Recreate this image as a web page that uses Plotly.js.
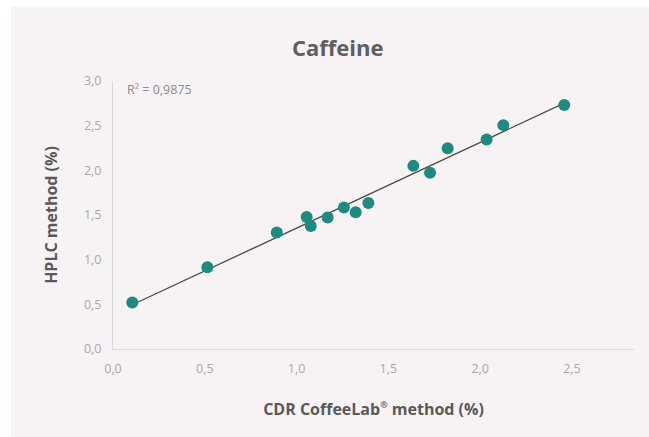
<!DOCTYPE html>
<html>
<head>
<meta charset="utf-8">
<script src="https://cdn.plot.ly/plotly-3.0.1.min.js"></script>
<style>
  html, body { margin: 0; padding: 0; background: #ffffff; }
  #chart { position: absolute; left: 11px; top: 7px; width: 638px; height: 430px; }
</style>
</head>
<body>
<div id="chart"></div>
<script>
// Data
const cdrValues  = [0.105, 0.514, 0.892, 1.055, 1.077, 1.169, 1.258, 1.322, 1.391, 1.636, 1.727, 1.823, 2.035, 2.126, 2.458];
const hplcValues = [0.52, 0.915, 1.303, 1.478, 1.377, 1.471, 1.584, 1.531, 1.635, 2.050, 1.972, 2.247, 2.346, 2.506, 2.731];
const xTickValues = [0, 0.5, 1.0, 1.5, 2.0, 2.5];
const yTickValues = [0, 0.5, 1.0, 1.5, 2.0, 2.5, 3.0];
const chartTitle = 'Caffeine';
const xTitle = 'CDR CoffeeLab<sup><span style="font-size:9px">®</span></sup> method (%)';
const yTitle = 'HPLC method (%)';
const r2Label = 'R² = 0,9875';

// Least-squares linear trendline from the data
const n = cdrValues.length;
const mx = cdrValues.reduce((a, b) => a + b, 0) / n;
const my = hplcValues.reduce((a, b) => a + b, 0) / n;
let sxy = 0, sxx = 0;
for (let i = 0; i < n; i++) {
  sxy += (cdrValues[i] - mx) * (hplcValues[i] - my);
  sxx += (cdrValues[i] - mx) * (cdrValues[i] - mx);
}
const slope = sxy / sxx;
const intercept = my - slope * mx;
const xMin = Math.min(...cdrValues), xMax = Math.max(...cdrValues);
const trendX = [xMin, xMax];
const trendY = trendX.map(v => intercept + slope * v);

const teal = '#1f8a80';
const tickFont = { family: 'Open Sans, sans-serif', size: 12.5, color: '#a8a8a8' };
const titleFont = { family: 'Open Sans, sans-serif', size: 16, color: '#595959', weight: 'bold' };

const traces = [
  {
    x: trendX, y: trendY, type: 'scatter', mode: 'lines',
    line: { color: '#4a4a4a', width: 1.3 }, hoverinfo: 'skip', showlegend: false
  },
  {
    x: cdrValues, y: hplcValues, type: 'scatter', mode: 'markers',
    marker: { color: teal, size: 12, line: { width: 0 } }, showlegend: false
  }
];

const layout = {
  width: 638, height: 430,
  paper_bgcolor: '#f7f3f4', plot_bgcolor: '#f7f3f4',
  separators: ', ',
  margin: { l: 102, r: 15, t: 74, b: 88 },
  showlegend: false,
  title: {
    text: '<b>' + chartTitle + '</b>',
    font: { family: 'Open Sans, sans-serif', size: 22, color: '#5f5f5f' },
    xref: 'container', x: 0.512, xanchor: 'center',
    yref: 'container', y: 0.905, yanchor: 'middle'
  },
  xaxis: {
    range: [0, 2.838], tickvals: xTickValues, tickformat: '.1f',
    showgrid: false, zeroline: false, showline: true, linecolor: '#d9d9d9', linewidth: 1,
    ticks: '', tickfont: tickFont, ticklabelstandoff: 8,
    title: { text: xTitle, font: titleFont, standoff: 27 }
  },
  yaxis: {
    range: [0, 3.0], tickvals: yTickValues, tickformat: '.1f',
    showgrid: false, zeroline: false, showline: true, linecolor: '#d9d9d9', linewidth: 1,
    ticks: '', tickfont: tickFont, ticklabelstandoff: 8,
    title: { text: yTitle, font: titleFont, standoff: 22 }
  },
  annotations: [
    {
      x: 0.065, y: 2.9, xref: 'x', yref: 'y', xanchor: 'left', yanchor: 'middle',
      text: r2Label, showarrow: false,
      font: { family: 'Open Sans, sans-serif', size: 12.5, color: '#8c8c8c' }
    }
  ]
};

Plotly.newPlot('chart', traces, layout, { displayModeBar: false, staticPlot: true });
</script>
</body>
</html>
